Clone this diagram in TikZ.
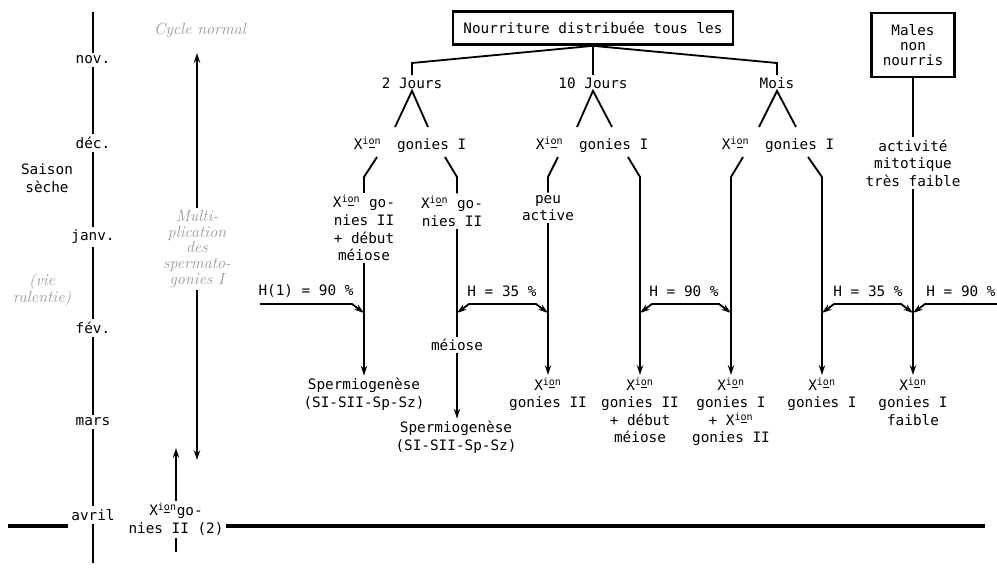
\documentclass[tikz,border=0pt]{standalone}
\usepackage{fontspec}
\usetikzlibrary{arrows.meta}
\newfontfamily\mono{DejaVu Sans Mono}
\newcommand{\xion}{X\textsuperscript{i\underline{o}n}}

\begin{document}
\begin{tikzpicture}[x=0.025cm,y=-0.025cm,
  every node/.style={font=\mono\fontsize{10.2}{12.5}\selectfont, align=center, inner sep=1.5pt},
  line/.style={line width=1.3pt},
  arr/.style={line width=1.3pt,-{Stealth[length=7pt,width=4.5pt]}},
  harr/.style={line width=1.3pt,{Stealth[length=7pt,width=4.5pt]}-{Stealth[length=7pt,width=4.5pt]}},
  note/.style={font=\itshape\fontsize{11.5}{11.2}\selectfont, text=black!40},
  box/.style={draw, line width=2pt, inner sep=4pt},
  month/.style={inner sep=2pt},
  result/.style={anchor=north},
  season/.style={line width=3pt}]

\useasboundingbox (0,0) rectangle (997,567);

% months
\coordinate (axT) at (93,12);
\coordinate (axB) at (93,563);
\node[month] (nov) at (93,60) {nov.};
\node[month] (dec) at (93,143) {déc.};
\node[month] (janv) at (93,237) {janv.};
\node[month] (fev) at (93,328) {fév.};
\node[month] (mars) at (93,422) {mars};
\node[month] (avril) at (93,515) {avril};
\foreach \a/\b in {axT/nov,nov/dec,dec/janv,janv/fev,fev/mars,mars/avril,avril/axB}
  \draw[line] (\a) -- (\b);

\node (saison) at (47,178) {Saison\\sèche};
\node[note] (vie) at (42,290) {(vie\\ralentie)};

% normal cycle
\node[note] (cyc) at (200,30) {Cycle normal};
\node[note] (multi) at (197,249) {Multi-\\plication\\des\\spermato-\\gonies I};
\coordinate (cycT) at (197,53);
\coordinate (cycB) at (197,460);
\draw[arr] (multi) -- (cycT);
\draw[arr] (multi) -- (cycB);

\node (xg2) at (176,519) {\xion go-\\nies II (2)};
\coordinate (xgT) at (176,448);
\coordinate (xgB) at (176,552);
\draw[arr] (xg2.north) -- (xgT);
\draw[line] (xg2.south) -- (xgB);

% rainy season limit
\coordinate (seaL) at (8,526);
\coordinate (seaR) at (985,526);
\draw[season] (seaL) -- (seaL -| avril.west);
\draw[season] (xg2.east |- seaL) -- (seaR);

% feeding
\node[box, minimum width=7cm, minimum height=0.82cm] (top) at (593,28) {Nourriture distribuée tous les};
\node[box, minimum width=2.07cm, minimum height=1.6cm, font=\mono\fontsize{10.2}{10.4}\selectfont] (males) at (913,45) {Males\\non\\nourris};

\node (j2) at (412,83) {2 Jours};
\node (j10) at (593,83) {10 Jours};
\node (jm) at (777,83) {Mois};
\coordinate (k2) at (412,63);
\coordinate (km) at (777,63);
\draw[line] (top.south) -- (k2) -- (j2);
\draw[line] (top.south) -- (j10);
\draw[line] (top.south) -- (km) -- (jm);

\node (g2) at (410,145) {\xion\hspace{1.1em}gonies I};
\node (g10) at (592,145) {\xion\hspace{1.1em}gonies I};
\node (gm) at (778,145) {\xion\hspace{1.1em}gonies I};
\coordinate (v2a) at (395,127);  \coordinate (v2b) at (428,127);
\coordinate (v10a) at (577,127); \coordinate (v10b) at (612,127);
\coordinate (vma) at (759,127);  \coordinate (vmb) at (796,127);
\draw[line] (v2a) -- (j2.south) -- (v2b);
\draw[line] (v10a) -- (j10.south) -- (v10b);
\draw[line] (vma) -- (jm.south) -- (vmb);

\node (activ) at (913,163) {activité\\mitotique\\très faible};

% third level
\node (a1) at (364,228) {\xion{} go-\\nies II\\+ début\\méiose};
\node (a2) at (452,211) {\xion{} go-\\nies II};
\node (peu) at (548,208) {peu\\active};
\node (meiose) at (457,345) {méiose};
\node (sp1) at (364,394) {Spermiogenèse\\(SI-SII-Sp-Sz)};
\node (sp2) at (456,437) {Spermiogenèse\\(SI-SII-Sp-Sz)};

\coordinate (s2a) at (377,157);  \coordinate (b2a) at (364,177);
\coordinate (s2b) at (445,157);  \coordinate (b2b) at (457,177);
\coordinate (s10a) at (558,157); \coordinate (b10a) at (548,177);
\coordinate (s10b) at (628,157); \coordinate (b10b) at (640,177);
\coordinate (sma) at (743,157);  \coordinate (bma) at (731,177);
\coordinate (smb) at (808,157);  \coordinate (bmb) at (822,177);

% results
\node[result] (r1) at (548,375) {\xion\\gonies II};
\node[result] (r2) at (640,375) {\xion\\gonies II\\+ début\\méiose};
\node[result] (r3) at (731,375) {\xion\\gonies I\\+ \xion\\gonies II};
\node[result] (r4) at (822,375) {\xion\\gonies I};
\node[result] (r5) at (913,375) {\xion\\gonies I\\faible};

\draw[line] (s2a) -- (b2a) -- (a1);
\draw[arr] (a1) -- (sp1);
\draw[line] (s2b) -- (b2b) -- (b2b |- a2.north);
\draw[line] (b2b |- a2.south) -- (meiose);
\draw[arr] (meiose) -- (meiose |- sp2.north);
\draw[line] (s10a) -- (b10a) -- (peu);
\draw[arr] (peu) -- (r1);
\draw[arr] (s10b) -- (b10b) -- (r2);
\draw[arr] (sma) -- (bma) -- (r3);
\draw[arr] (smb) -- (bmb) -- (r4);
\draw[line] (males) -- (activ);
\draw[arr] (activ) -- (r5);

% humidity
\coordinate (jA) at (364,313);
\coordinate (jB) at (457,313);
\coordinate (jC) at (548,313);
\coordinate (jD) at (640,313);
\coordinate (jE) at (731,313);
\coordinate (jF) at (822,313);
\coordinate (jG) at (913,313);
\coordinate (hA0) at (260,304); \coordinate (hA1) at (352,304);
\coordinate (hG0) at (997,304); \coordinate (hG1) at (925,304);
\draw[arr] (hA0) -- (hA1) -- (jA);
\draw[harr] (jB) -- ++(12,-9) -- ([shift={(-12,-9)}]jC) -- (jC);
\draw[harr] (jD) -- ++(12,-9) -- ([shift={(-12,-9)}]jE) -- (jE);
\draw[harr] (jF) -- ++(12,-9) -- ([shift={(-12,-9)}]jG) -- (jG);
\draw[arr] (hG0) -- (hG1) -- (jG);

\node (hA) at (306,291) {H(1) = 90 \%};
\node (hB) at (502,291) {H = 35 \%};
\node (hC) at (684,291) {H = 90 \%};
\node (hD) at (868,291) {H = 35 \%};
\node (hE) at (961,291) {H = 90 \%};

\end{tikzpicture}
\end{document}
